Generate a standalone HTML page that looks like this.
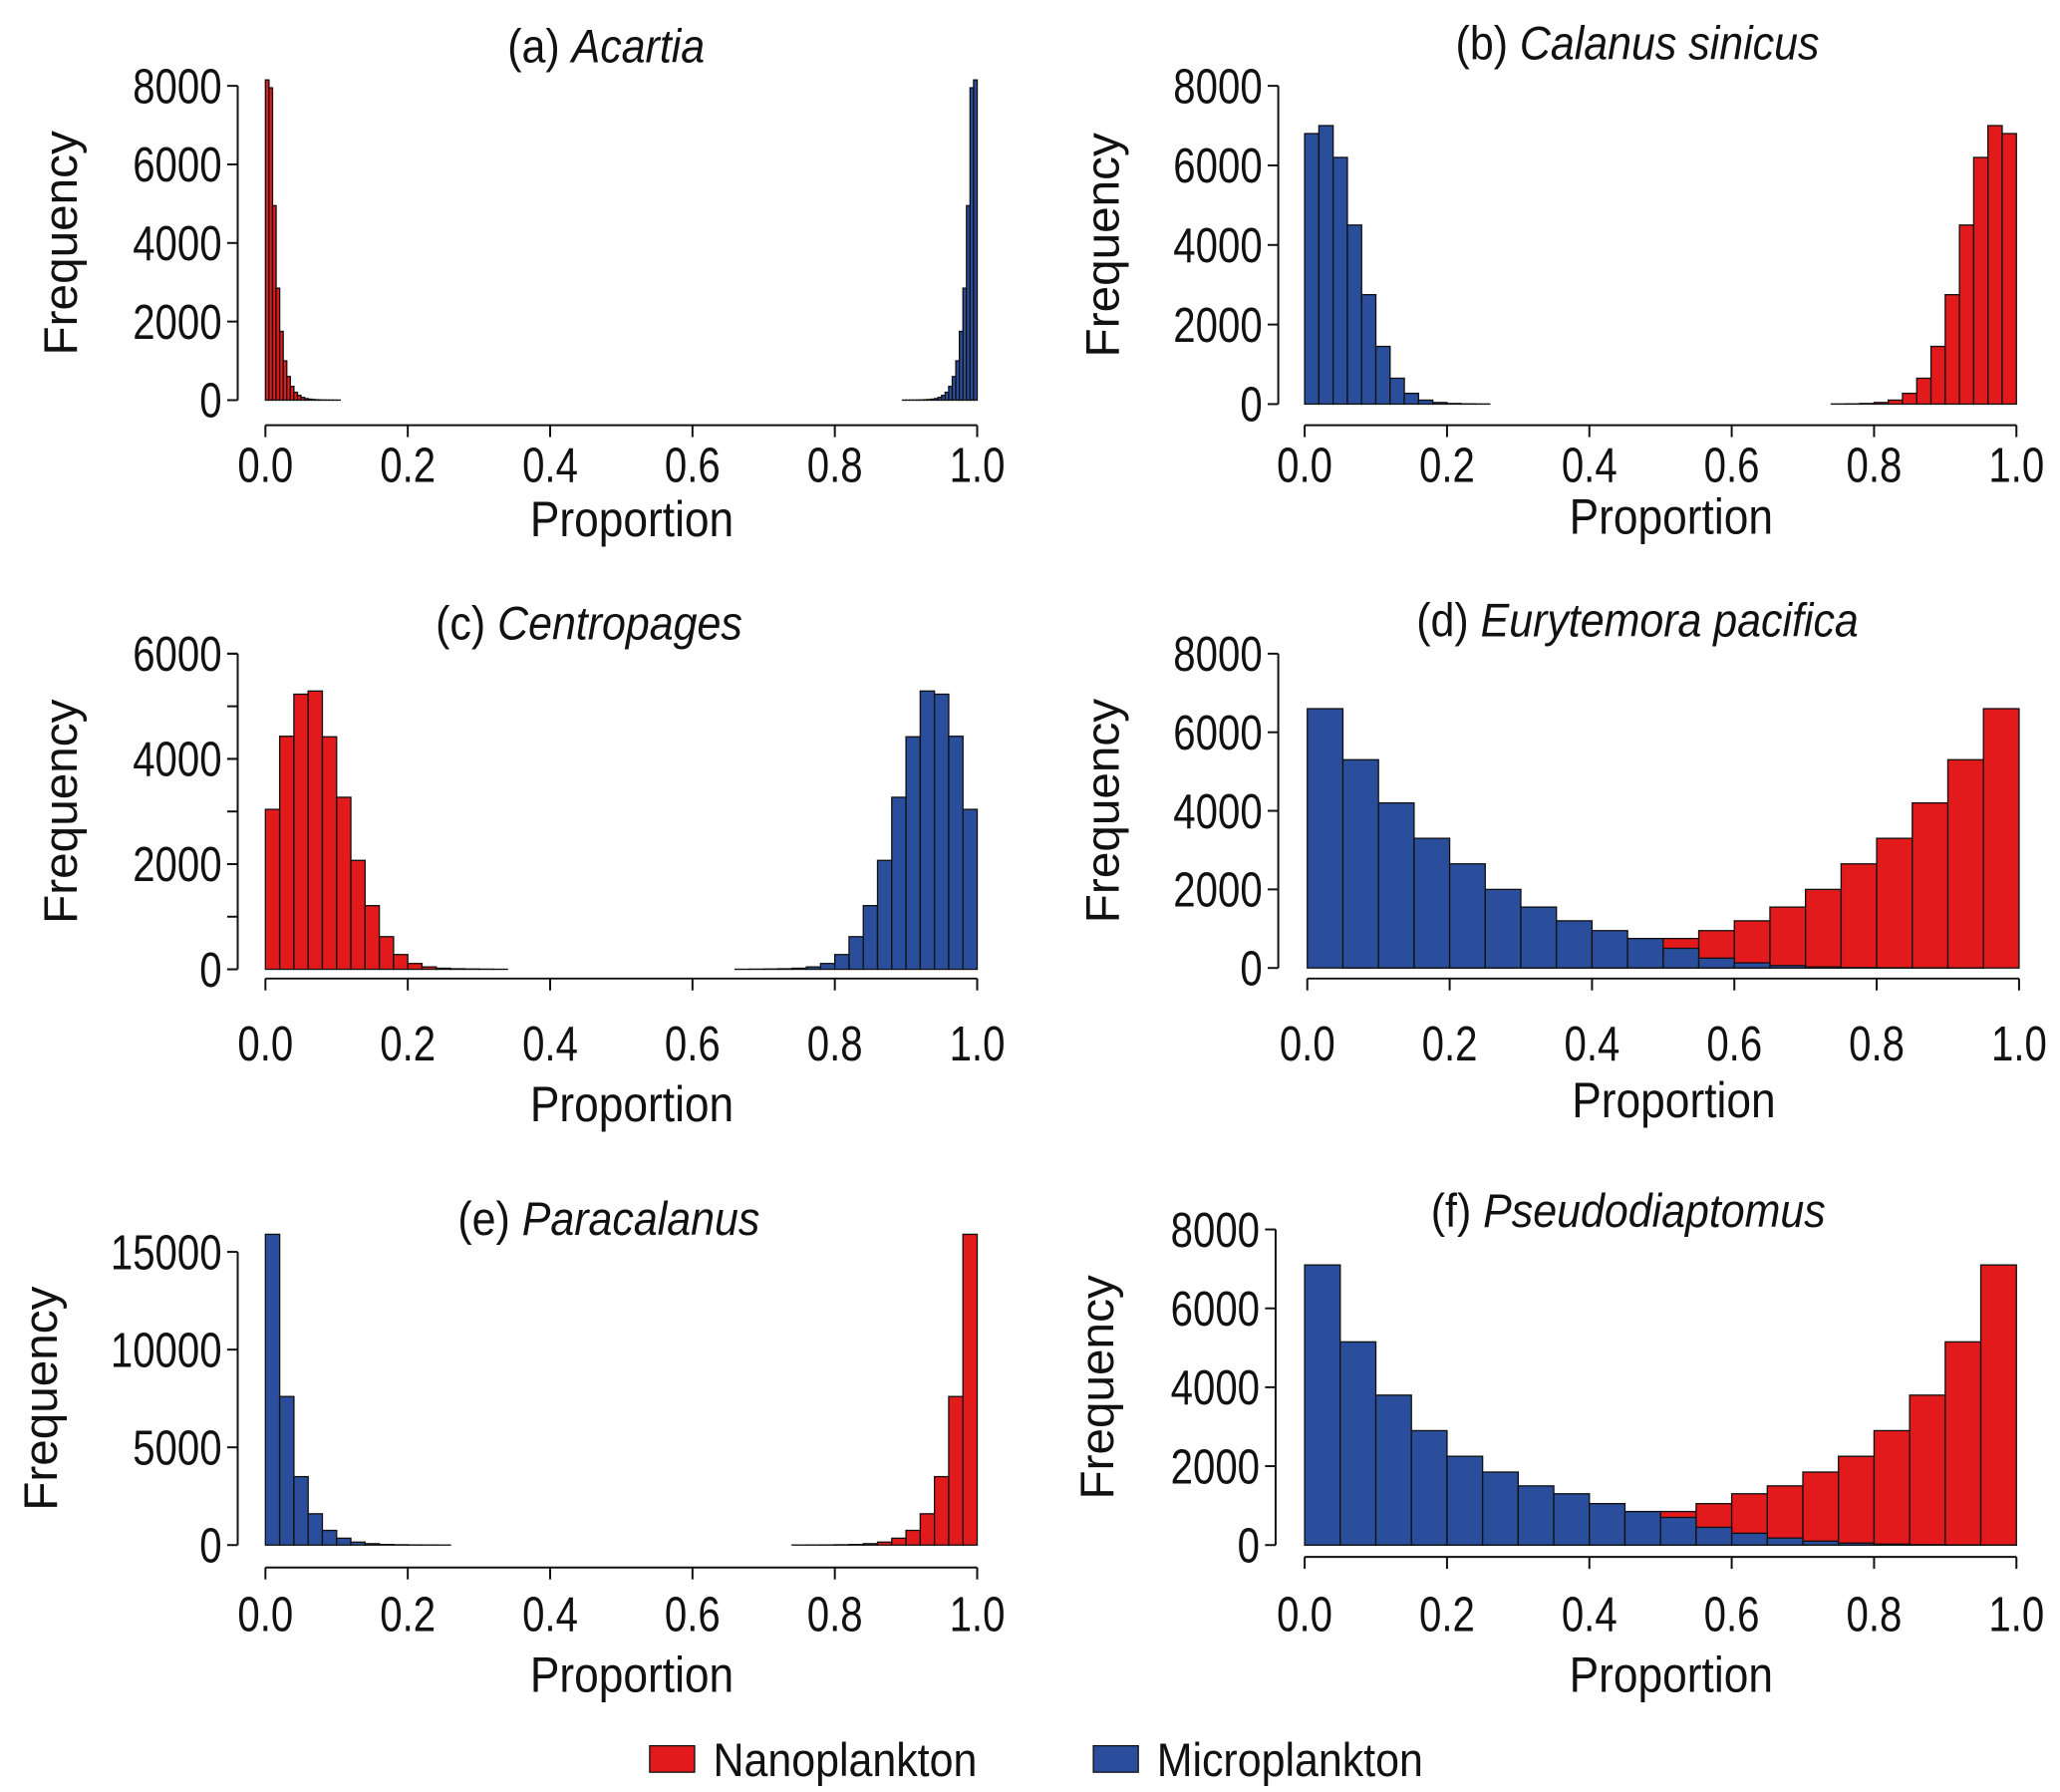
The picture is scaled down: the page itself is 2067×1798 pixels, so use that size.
<!DOCTYPE html>
<html><head><meta charset="utf-8"><style>
html,body{margin:0;padding:0;background:#fff;}
svg{display:block;}
text{font-family:"Liberation Sans",sans-serif;fill:#111;}
</style></head><body>
<svg id="fig" width="2067" height="1798" viewBox="0 0 1560 1357" xmlns="http://www.w3.org/2000/svg"></svg>
<script>
// Panel data (frequencies per bin)
const aRed = [8150,7950,4950,2850,1750,1000,600,350,200,120,70,40,25,15,10,6,4,3,2,1,1];
const aBlue = aRed.slice().reverse();
const bBlue = [6800,7000,6200,4500,2750,1450,650,270,100,40,15,6,3];
const bRed = bBlue.slice().reverse();
const cRed = [3040,4430,5230,5290,4420,3270,2070,1210,620,280,110,45,20,10,6,3,1];
const cBlue = cRed.slice().reverse();
const dBlue = [6600,5300,4200,3300,2650,2000,1550,1200,950,750,500,250,130,60,25,10,5,2,1,0];
const dRed = dBlue.slice().reverse();
const eBlue = [15900,7600,3500,1600,750,350,150,70,30,15,6,3,1];
const eRed = eBlue.slice().reverse();
const fBlue = [7100,5150,3800,2900,2250,1850,1500,1300,1050,850,700,450,300,180,100,50,25,10,5,2];
const fRed = fBlue.slice().reverse();
const xTicks = ["0.0","0.2","0.4","0.6","0.8","1.0"];
const yTicks8000 = [0,2000,4000,6000,8000];
const yTicks6000 = [0,2000,4000,6000];
const yTicks15000 = [0,5000,10000,15000];

const RED="#e31a1c", BLUE="#2a4e9c";
const NS="http://www.w3.org/2000/svg";
const svg=document.getElementById('fig');
function mk(tag,attrs,parent){const e=document.createElementNS(NS,tag);for(const k in attrs)e.setAttribute(k,attrs[k]);(parent||svg).appendChild(e);return e;}
const SX=0.82;

const panels=[
 {id:'a',title:['(a) ','Acartia'],tx:459,ty:35,ax:180,x0:201,x1:740,y0:303,yTop:65,ymax:8000,xAxisY:322,ticks:yTicks8000,minor:0,bw:0.005,red:aRed,blue:aBlue,redStart:0,blueEnd:1,tickY:352,propY:393,freqX:45},
 {id:'b',title:['(b) ','Calanus sinicus'],tx:1240,ty:33,ax:968,x0:988,x1:1527,y0:306,yTop:65,ymax:8000,xAxisY:322,ticks:yTicks8000,minor:0,bw:0.02,red:bRed,blue:bBlue,redEnd:1,blueStart:0,tickY:352,propY:391,freqX:834},
 {id:'c',title:['(c)  ','Centropages'],tx:446,ty:472,ax:180,x0:201,x1:740,y0:734,yTop:495,ymax:6000,xAxisY:741,ticks:yTicks6000,minor:1000,bw:0.02,red:cRed,blue:cBlue,redStart:0,blueEnd:1,tickY:790,propY:836,freqX:45},
 {id:'d',title:['(d) ','Eurytemora pacifica'],tx:1240,ty:470,ax:968,x0:990,x1:1529,y0:733,yTop:495,ymax:8000,xAxisY:741,ticks:yTicks8000,minor:0,bw:0.05,red:dRed,blue:dBlue,redStart:0,blueStart:0,tickY:790,propY:833,freqX:834},
 {id:'e',title:['(e) ','Paracalanus'],tx:461,ty:923,ax:180,x0:201,x1:740,y0:1170,yTop:948,ymax:15000,xAxisY:1187,ticks:yTicks15000,minor:0,bw:0.02,red:eRed,blue:eBlue,redEnd:1,blueStart:0,tickY:1222,propY:1268,freqX:30},
 {id:'f',title:['(f)  ','Pseudodiaptomus'],tx:1233,ty:917,ax:966,x0:988,x1:1527,y0:1170,yTop:931,ymax:8000,xAxisY:1179,ticks:yTicks8000,minor:0,bw:0.05,red:fRed,blue:fBlue,redStart:0,blueStart:0,tickY:1222,propY:1268,freqX:830}
];

panels.forEach(p=>{
  const g=mk('g',{});
  
  
  const xs=v=>p.x0+(p.x1-p.x0)*v;
  const ys=v=>p.y0-(p.y0-p.yTop)*v/p.ymax;
  function bars(arr,start,end,color,name){
    const n=arr.length;
    const s = start!==undefined ? start : end - n*p.bw;
    const bg=mk('g',{},g);
    
    
    arr.forEach((v,i)=>{
      const xa=xs(s+i*p.bw), xb=xs(s+(i+1)*p.bw);
      const r=mk('rect',{x:xa,y:ys(v),width:xb-xa,height:p.y0-ys(v),fill:color,stroke:'#111','stroke-width':1},bg);
      
      
    });
  }
  bars(p.red,p.redStart,p.redEnd,RED,'nanoplankton-bars');
  bars(p.blue,p.blueStart,p.blueEnd,BLUE,'microplankton-bars');
  const ya=mk('g',{},g);
  
  
  mk('line',{x1:p.ax,x2:p.ax,y1:ys(p.ticks[0]),y2:ys(p.ticks[p.ticks.length-1]),stroke:'#111','stroke-width':1.5},ya);
  if(p.minor){for(let v=0;v<=p.ymax;v+=p.minor)mk('line',{x1:p.ax-8,x2:p.ax,y1:ys(v),y2:ys(v),stroke:'#111','stroke-width':1.5},ya);}
  p.ticks.forEach(v=>{
    mk('line',{x1:p.ax-8,x2:p.ax,y1:ys(v),y2:ys(v),stroke:'#111','stroke-width':1.5},ya);
    const t=mk('text',{x:0,y:0,'text-anchor':'end','font-size':37,transform:`translate(${p.ax-12},${ys(v)+13}) scale(${SX},1)`},ya);
    t.textContent=v;
    
    
  });
  const xa=mk('g',{},g);
  
  
  mk('line',{x1:p.x0,x2:p.x1,y1:p.xAxisY,y2:p.xAxisY,stroke:'#111','stroke-width':1.5},xa);
  xTicks.forEach((lab)=>{
    const x=xs(parseFloat(lab));
    mk('line',{x1:x,x2:x,y1:p.xAxisY,y2:p.xAxisY+9,stroke:'#111','stroke-width':1.5},xa);
    const t=mk('text',{x:0,y:0,'text-anchor':'middle','font-size':37,transform:`translate(${x},${p.tickY+13}) scale(${SX},1)`},xa);
    t.textContent=lab;
    
    
  });
  const pt=mk('text',{x:0,y:0,'text-anchor':'middle','font-size':38,transform:`translate(${(p.x0+p.x1)/2+8},${p.propY+13}) scale(0.88,1)`},g);
  pt.textContent='Proportion';
  
  
  const fy=(p.y0+p.yTop)/2;
  const ft=mk('text',{x:0,y:0,'text-anchor':'middle','font-size':36,transform:`translate(${p.freqX+13},${fy}) rotate(-90)`},g);
  ft.textContent='Frequency';
  
  
  const tt=mk('text',{x:0,y:0,'text-anchor':'middle','font-size':36,transform:`translate(${p.tx},${p.ty+12}) scale(0.9,1)`},g);
  
  
  const s1=mk('tspan',{},tt);s1.textContent=p.title[0];
  const s2=mk('tspan',{'font-style':'italic'},tt);s2.textContent=p.title[1];
});

const lg=mk('g',{});


const l1=mk('rect',{x:492,y:1322,width:34,height:20,fill:RED,stroke:'#111','stroke-width':1},lg);


const t1=mk('text',{x:0,y:0,'font-size':36,transform:'translate(540,1345) scale(0.9,1)'},lg);t1.textContent='Nanoplankton';


const l2=mk('rect',{x:828,y:1322,width:34,height:20,fill:BLUE,stroke:'#111','stroke-width':1},lg);


const t2=mk('text',{x:0,y:0,'font-size':36,transform:'translate(876,1345) scale(0.9,1)'},lg);t2.textContent='Microplankton';


</script>
</body></html>
